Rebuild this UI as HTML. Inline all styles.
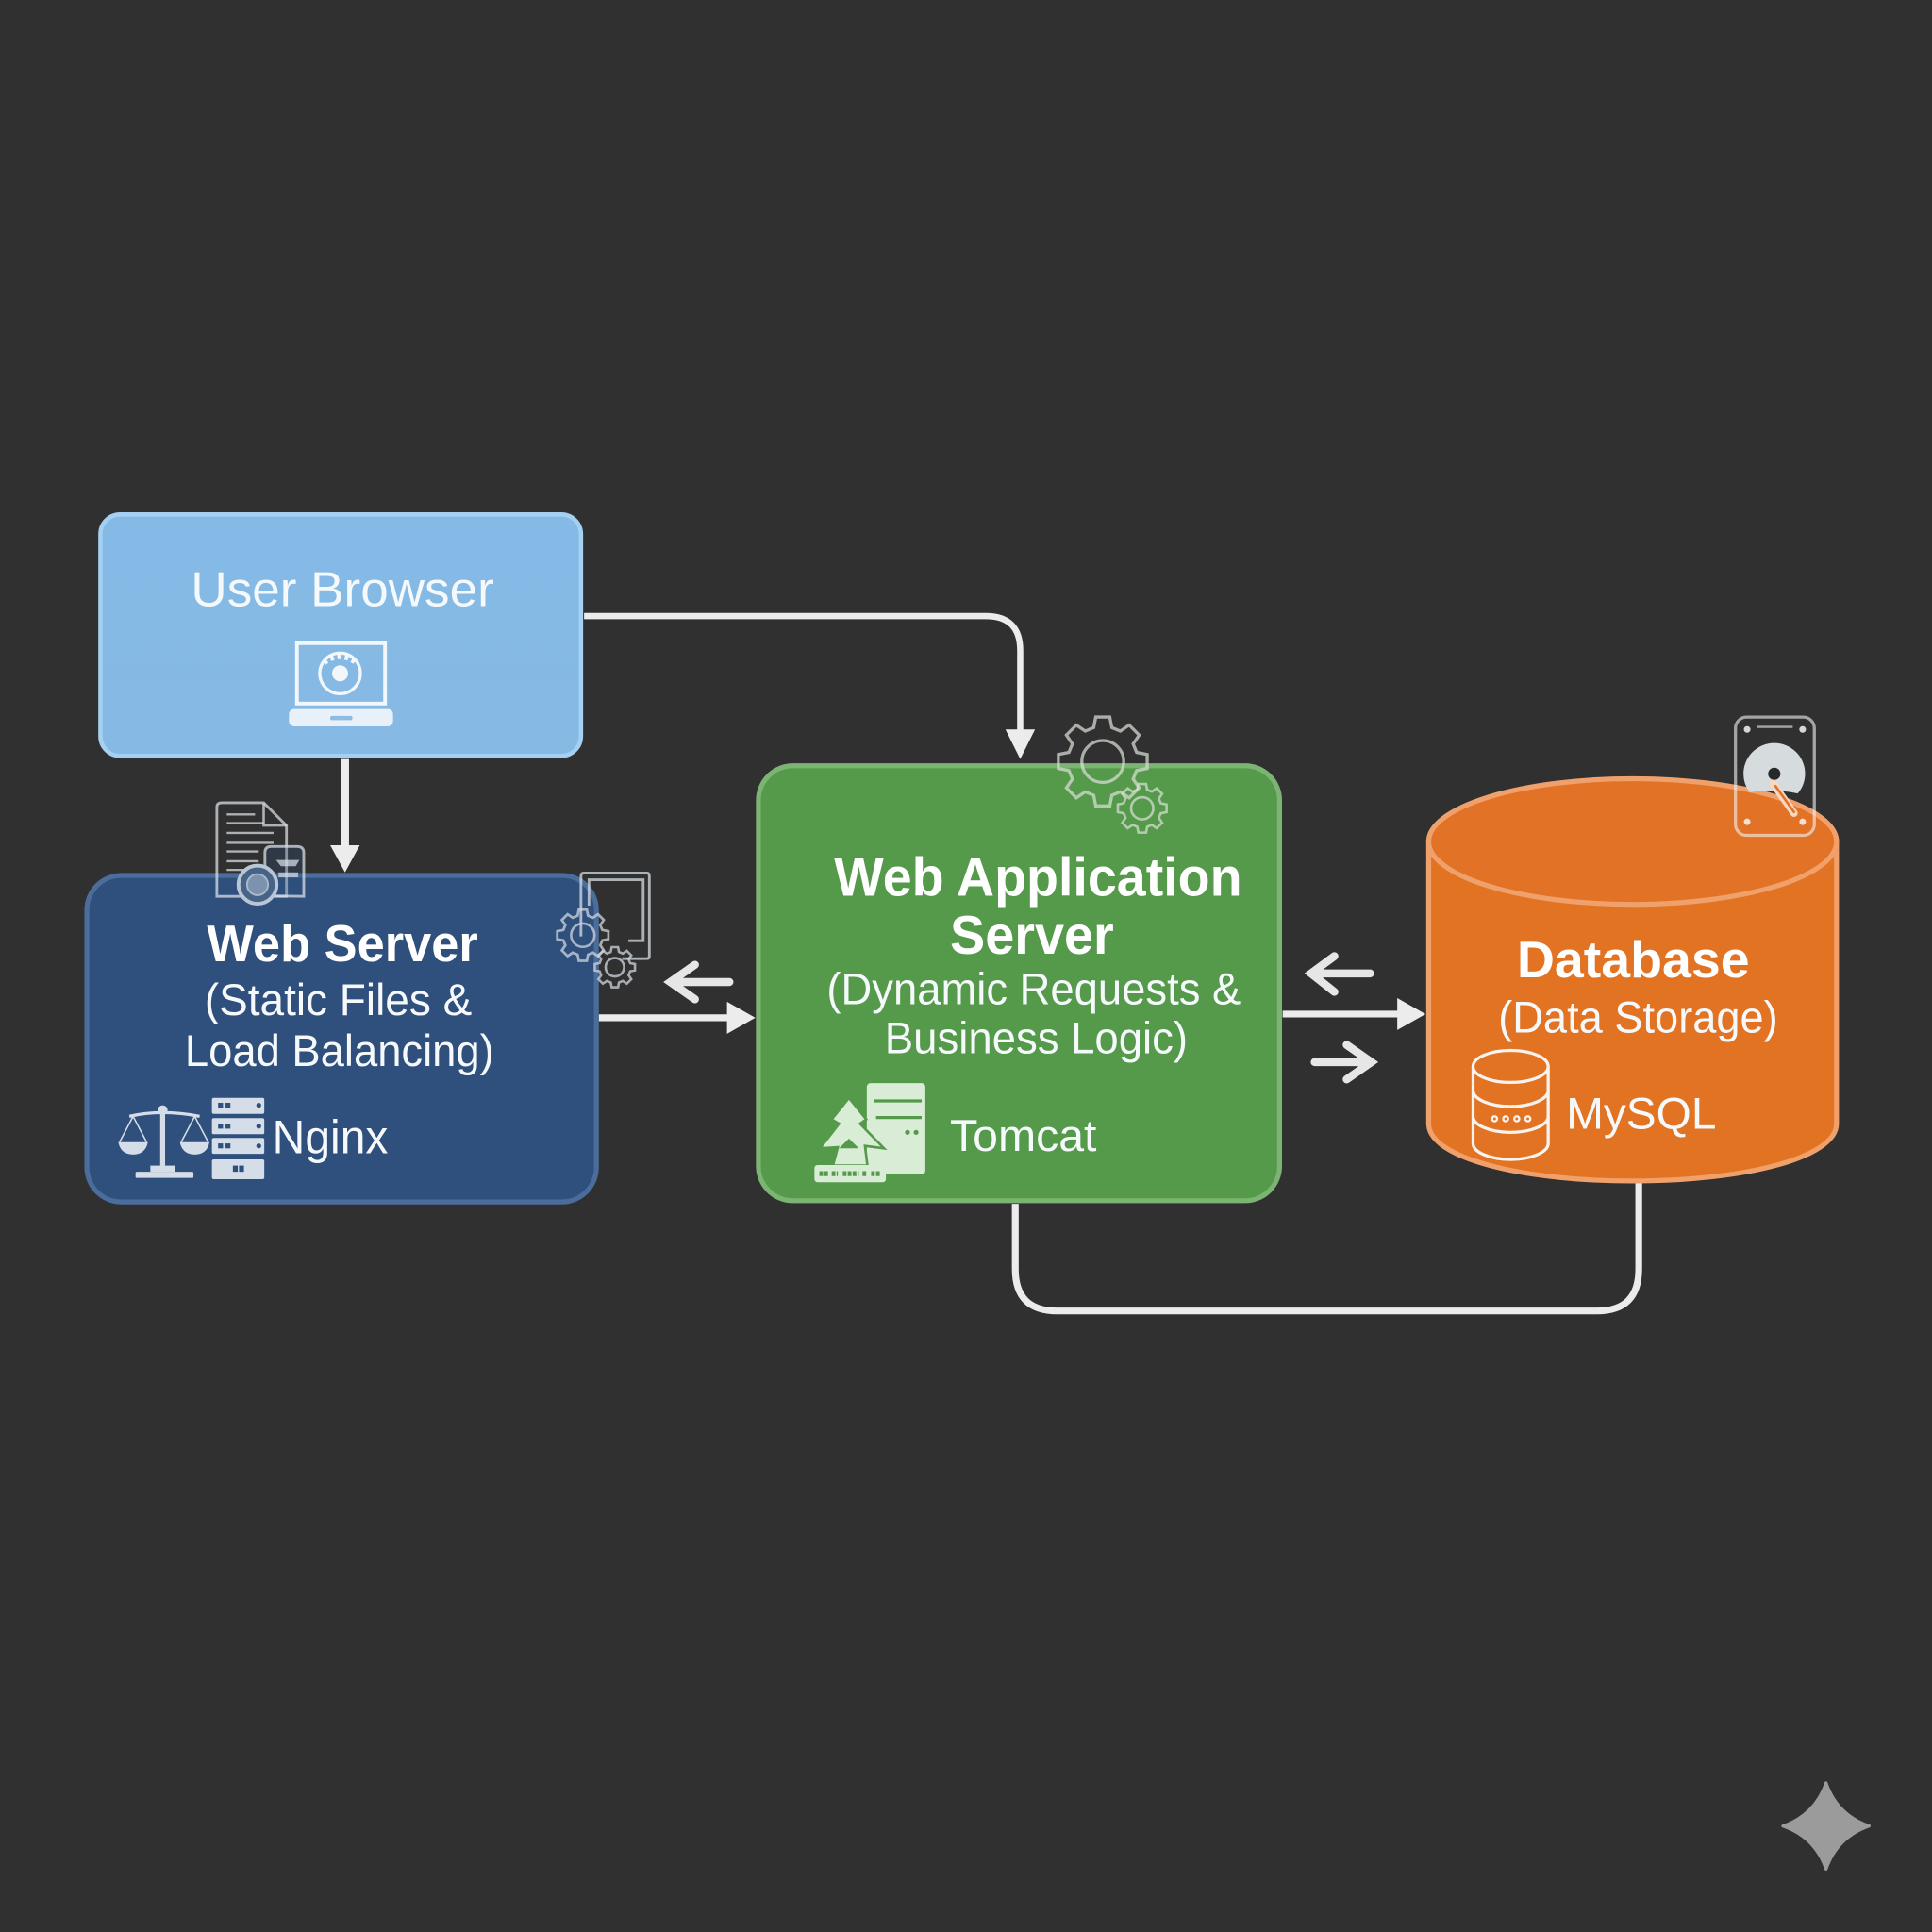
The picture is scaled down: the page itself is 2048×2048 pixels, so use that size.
<!DOCTYPE html>
<html>
<head>
<meta charset="utf-8">
<style>
html,body{margin:0;padding:0;background:#303030;width:2048px;height:2048px;overflow:hidden}
svg{display:block}
text{font-family:"Liberation Sans",sans-serif;fill:#f6f9fb}
.b{font-weight:700;fill:#fff}
</style>
</head>
<body>
<svg xmlns="http://www.w3.org/2000/svg" width="2048" height="2048" viewBox="0 0 1568 1568">
<defs>
<polygon id="gear" points=".753,-.202 .988,-.156 .988,.156 .753,.202 .675,.39 .809,.588 .588,.809 .39,.675 .202,.753 .156,.988 -.156,.988 -.202,.753 -.39,.675 -.588,.809 -.809,.588 -.675,.39 -.753,.202 -.988,.156 -.988,-.156 -.753,-.202 -.675,-.39 -.809,-.588 -.588,-.809 -.39,-.675 -.202,-.753 -.156,-.988 .156,-.988 .202,-.753 .39,-.675 .588,-.809 .809,-.588 .675,-.39"/>
<linearGradient id="gB" x1="0" y1="0" x2="0" y2="1"><stop offset="0" stop-color="#84bae5"/><stop offset="1" stop-color="#86b9e4"/></linearGradient>
</defs>
<rect width="1568" height="1568" fill="#303030"/>

<!-- connectors -->
<g fill="none" stroke="#ececec" stroke-linejoin="round">
<path d="M474,500H800Q828,500 828,528V596" stroke-width="5"/>
<path d="M280,616V688" stroke-width="6.500"/>
<path d="M486,826H592" stroke-width="5.500"/>
<path d="M1041,823H1136" stroke-width="5.500"/>
<path d="M824,977V1030Q824,1064 858,1064H1296Q1330,1064 1330,1030V958" stroke-width="5.500"/>
</g>
<g fill="#ececec">
<polygon points="816,592 840,592 828,616"/>
<polygon points="268,686 292,686 280,708"/>
<polygon points="590,813 590,839 613,826"/>
<polygon points="1134,810 1134,836 1157,823"/>
</g>
<g fill="none" stroke="#e6e6e6" stroke-width="6.500" stroke-linecap="round" stroke-linejoin="miter">
<path d="M592,797H548M564,783L544,797L564,811"/>
<path d="M1112,790H1067M1083,776L1064,790L1083,805"/>
<path d="M1067,862H1111M1093,848L1113,862L1093,876"/>
</g>

<!-- User Browser -->
<rect x="81.500" y="417.500" width="390" height="196" rx="16" fill="url(#gB)" stroke="#a4d0f1" stroke-width="3.500"/>
<text x="155" y="492" font-size="40" textLength="246" lengthAdjust="spacingAndGlyphs">User Browser</text>
<rect x="241" y="522" width="71.500" height="49" fill="none" stroke="#f2f7fb" stroke-width="3"/>
<circle cx="276" cy="546.500" r="16.500" fill="none" stroke="#f2f7fb" stroke-width="2.500"/>
<circle cx="276" cy="546.500" r="6.500" fill="#f2f7fb"/>
<path d="M263,538Q276,528 289,538" fill="none" stroke="#f2f7fb" stroke-width="4" stroke-dasharray="3 3"/>
<rect x="234.500" y="575.500" width="84.500" height="14" rx="4" fill="#e8f1f9"/>
<rect x="268" y="581" width="18" height="3.500" rx="1.500" fill="#8cbce4"/>

<!-- Web Server -->
<rect x="70.500" y="710.500" width="413.500" height="265" rx="28" fill="#2f4f7c" stroke="#4b6d9c" stroke-width="4"/>
<g fill="none" stroke="#dde3ea" stroke-opacity=".72" stroke-width="2.200">
<path d="M176,655Q176,651.500 180,651.500H214L232.500,670V727.500H176Z"/>
<path d="M214,652V670H232.500" stroke-width="2"/>
<path d="M184,661H207M184,668H214M184,676H222M184,684H222M184,691H210M184,699H210M184,706H200" stroke-width="1.800"/>
<path d="M215,727V692Q215,687 220,687H241Q246.500,687 246.500,692V727.500Z" fill="#2f4f7c" fill-opacity=".3"/>
<path d="M471.500,760V711Q471.500,708.500 474,708.500H525Q527,708.500 527,711V776Q527,778 525,778H505" />
<path d="M478,735V714H522V763.500H510"/>
</g>
<path d="M224,698H243L240,703H228ZM226,708H242V712H226Z" fill="#dde3ea" fill-opacity=".7"/>
<circle cx="209" cy="718" r="15.500" fill="#476488" stroke="#b9c6d6" stroke-width="3"/>
<circle cx="209" cy="718" r="8.500" fill="#7d93ad" stroke="#a9b8ca" stroke-width="1.500"/>
<g fill="none" stroke="#cfd6df" stroke-opacity=".75">
<use href="#gear" transform="translate(473 759) scale(21)" stroke-width=".1"/>
<circle cx="473" cy="759" r="9.500" stroke-width="2"/>
<use href="#gear" transform="translate(499 785) scale(16.500)" stroke-width=".12"/>
<circle cx="499" cy="785" r="7.500" stroke-width="2"/>
</g>
<text class="b" x="168" y="780" font-size="42" textLength="220" lengthAdjust="spacingAndGlyphs">Web Server</text>
<text x="166" y="824" font-size="36" textLength="217" lengthAdjust="spacingAndGlyphs">(Static Files &amp;</text>
<text x="150" y="865" font-size="36" textLength="251" lengthAdjust="spacingAndGlyphs">Load Balancing)</text>
<text x="221" y="936" font-size="38" textLength="94" lengthAdjust="spacingAndGlyphs">Nginx</text>
<!-- scales -->
<g fill="none" stroke="#d5dde8" stroke-width="2">
<path d="M105,906Q131,900 162,906" stroke-width="2.500"/>
<path d="M108,906L97,927M108,906L119,927M158,906L147,927M158,906L169,927" stroke-width="1.200"/>
</g>
<g fill="#d5dde8">
<rect x="130" y="900" width="4" height="50"/>
<circle cx="132" cy="901" r="4"/>
<path d="M96,927H120Q118,937 108,937Q98,937 96,927Z"/>
<path d="M146,927H170Q168,937 158,937Q148,937 146,927Z"/>
<rect x="122" y="946" width="20" height="5"/>
<rect x="110" y="951" width="47" height="5" rx="1"/>
<rect x="172" y="891" width="42.500" height="13" rx="1.500"/>
<rect x="172" y="907.500" width="42.500" height="13" rx="1.500"/>
<rect x="172" y="923.500" width="42.500" height="13" rx="1.500"/>
<rect x="172" y="941" width="42.500" height="16" rx="1.500"/>
</g>
<g fill="#2f4f7c">
<rect x="177" y="895" width="4" height="4"/><rect x="183" y="895" width="4" height="4"/><circle cx="210" cy="897" r="2"/>
<rect x="177" y="912" width="4" height="4"/><rect x="183" y="912" width="4" height="4"/><circle cx="210" cy="914" r="2"/>
<rect x="177" y="928" width="4" height="4"/><rect x="183" y="928" width="4" height="4"/><circle cx="210" cy="930" r="2"/>
<rect x="189" y="946" width="4" height="5"/><rect x="194" y="946" width="4" height="5"/>
</g>

<!-- Web Application Server -->
<rect x="615.500" y="621.500" width="423" height="353" rx="28" fill="#559a4a" stroke="#7cb473" stroke-width="4"/>
<g fill="none" stroke="#d8dfd6" stroke-opacity=".72">
<use href="#gear" transform="translate(895 618) scale(36.500)" stroke-width=".07"/>
<circle cx="895" cy="618" r="17" stroke-width="2.500"/>
<use href="#gear" transform="translate(927 656) scale(20)" stroke-width=".1"/>
<circle cx="927" cy="656" r="9" stroke-width="2"/>
</g>
<text class="b" x="677" y="727" font-size="44" textLength="331" lengthAdjust="spacingAndGlyphs">Web Application</text>
<text class="b" x="771" y="774" font-size="44" textLength="133" lengthAdjust="spacingAndGlyphs">Server</text>
<text x="671" y="815" font-size="36" textLength="336" lengthAdjust="spacingAndGlyphs">(Dynamic Requests &amp;</text>
<text x="718" y="855" font-size="36" textLength="246" lengthAdjust="spacingAndGlyphs">Business Logic)</text>
<text x="771" y="934" font-size="36" textLength="119" lengthAdjust="spacingAndGlyphs">Tomcat</text>
<rect x="703.500" y="879" width="47.500" height="74" rx="3" fill="#d9ecd5"/>
<path d="M709,893.500H748M711,907H748" stroke="#559a4a" stroke-width="2.500"/>
<circle cx="736.500" cy="919" r="2" fill="#559a4a"/><circle cx="743.500" cy="919" r="2" fill="#559a4a"/>
<polygon points="689,891 703,908.500 698,912 717.500,932 702,930 704,946 676,946 680,931 665.500,932 681,912 675,908.500" fill="#d9ecd5" stroke="#559a4a" stroke-width="2"/>
<path d="M681,932L689,924L697,932Z" fill="#559a4a"/>
<rect x="661" y="945.500" width="58" height="14" rx="2.500" fill="#d9ecd5"/>
<path d="M665,952.500H672M675,952.500H680M684,952.500H697M700,952.500H704M707,952.500H714" stroke="#559a4a" stroke-width="4" stroke-dasharray="3 1"/>

<!-- Database -->
<path d="M1159.500,683A165.500,50 0 0 1 1490.500,683V912C1490.500,940 1415,958.500 1325,958.500C1235,958.500 1159.500,940 1159.500,912Z" fill="#e27323" stroke="#f0a06a" stroke-width="4"/>
<ellipse cx="1325" cy="683" rx="165.500" ry="51" fill="#e27226" stroke="#f0a06a" stroke-width="4"/>
<g fill="none" stroke="#f2f4f5" stroke-opacity=".6" stroke-width="2.500">
<rect x="1408.500" y="582" width="64" height="96" rx="9"/>
<path d="M1426,590H1455" stroke-width="1.800"/>
</g>
<g fill="#f2f4f5" fill-opacity=".85">
<circle cx="1418" cy="592" r="2.700"/><circle cx="1463" cy="592" r="2.700"/><circle cx="1418" cy="667" r="2.700"/><circle cx="1463" cy="667" r="2.700"/>
</g>
<path d="M1415,628A25,25 0 0 1 1465,628A25,25 0 0 1 1459,644Q1440,640 1420,643A25,25 0 0 1 1415,628Z" fill="#d6dbdd"/>
<circle cx="1440" cy="628" r="5" fill="#26282a"/>
<path d="M1439,636L1456,660" stroke="#f7d7bf" stroke-width="6" stroke-linecap="round"/>
<path d="M1441,638L1456,659" stroke="#e27226" stroke-width="2" stroke-linecap="round"/>
<text class="b" x="1231" y="793" font-size="42" textLength="189" lengthAdjust="spacingAndGlyphs">Database</text>
<text x="1216" y="838" font-size="36" textLength="227" lengthAdjust="spacingAndGlyphs">(Data Storage)</text>
<text x="1271" y="916" font-size="36" textLength="122" lengthAdjust="spacingAndGlyphs">MySQL</text>
<g fill="none" stroke="#f8f3ee" stroke-width="2.500">
<ellipse cx="1226" cy="865.500" rx="30.500" ry="13"/>
<path d="M1195.500,865.500V928C1195.500,935 1209,941 1226,941C1243,941 1256.500,935 1256.500,928V865.500"/>
<path d="M1195.500,885C1195.500,892 1209,898 1226,898C1243,898 1256.500,892 1256.500,885"/>
<path d="M1195.500,906C1195.500,913 1209,919 1226,919C1243,919 1256.500,913 1256.500,906"/>
</g>
<g fill="none" stroke="#f8f3ee" stroke-width="1.800">
<circle cx="1213" cy="908" r="2"/><circle cx="1222" cy="908" r="2"/><circle cx="1231" cy="908" r="2"/><circle cx="1240" cy="908" r="2"/>
</g>

<!-- watermark -->
<path d="M1482,1447Q1491,1473 1517,1482Q1491,1491 1482,1517Q1473,1491 1447,1482Q1473,1473 1482,1447Z" fill="#9b9b9b" stroke="#9b9b9b" stroke-width="2.500" stroke-linejoin="round"/>
</svg>
</body>
</html>
